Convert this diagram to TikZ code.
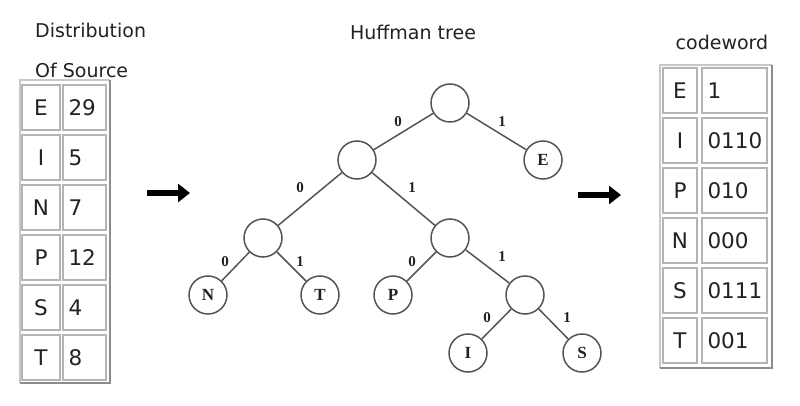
\documentclass[tikz,border=0pt]{standalone}
\usepackage{fontspec}
\setmainfont{DejaVu Sans}
\newfontfamily\treefont{Liberation Serif}
\usetikzlibrary{arrows.meta}
\definecolor{txt}{HTML}{222222}
\definecolor{edgec}{HTML}{555555}
\definecolor{cellb}{HTML}{B4B4B4}
\definecolor{outerb}{HTML}{C8C8C8}
\definecolor{shadowb}{HTML}{8C8C8C}
\begin{document}
\begin{tikzpicture}[x=1pt,y=-1pt,
  title/.style={text=txt,font=\fontsize{19}{22}\selectfont,inner sep=0pt},
  cellL/.style={draw=cellb,line width=1.2pt,minimum height=45pt,inner sep=0pt,text=txt,
    font=\fontsize{21.5}{24}\selectfont},
  tnode/.style={circle,draw=edgec,line width=1.5pt,minimum size=38pt,inner sep=0pt,
    font=\treefont\bfseries\fontsize{17}{19}\selectfont,text=txt},
  tedge/.style={draw=edgec,line width=1.5pt},
  lbl/.style={font=\treefont\bfseries\fontsize{15}{17}\selectfont,text=txt,inner sep=0pt},
  bigarrow/.style={line width=6pt,-{Triangle[length=12pt,width=18pt]}}
]
\useasboundingbox[fill=white] (0,0) rectangle (800,406);

% titles
\node[title,anchor=west] (t1) at (35,30) {Distribution};
\node[title,anchor=west] (t2) at (35,70) {Of Source};
\node[title] (t3) at (413,32) {Huffman tree};
\node[title] (t4) at (722,42) {codeword};

% left table
\draw[outerb,line width=1.5pt] (20,383) -- (20,80) -- (110,80);
\draw[shadowb,line width=2pt] (110,80) -- (110,383) -- (20,383);
\foreach \a/\b [count=\i from 0] in {E/29,I/5,N/7,P/12,S/4,T/8}{
  \node[cellL,minimum width=38pt] (la\i) at (41,107.5+50*\i) {\a};
  \node[cellL,minimum width=43pt,text width=32pt,align=left] (lb\i) at (84.5,107.5+50*\i) {\b};
}

% right table
\draw[outerb,line width=1.5pt] (660,368) -- (660,65) -- (772,65);
\draw[shadowb,line width=2pt] (772,65) -- (772,368) -- (660,368);
\foreach \a/\b [count=\i from 0] in {E/1,I/0110,P/010,N/000,S/0111,T/001}{
  \node[cellL,minimum width=34pt] (ra\i) at (680,90.5+50*\i) {\a};
  \node[cellL,minimum width=65pt,text width=54pt,align=left] (rb\i) at (734.5,90.5+50*\i) {\b};
}

% arrows
\coordinate (a1s) at (147,193);
\coordinate (a1e) at (190,193);
\coordinate (a2s) at (578,195);
\coordinate (a2e) at (621,195);
\draw[bigarrow] (a1s) -- (a1e);
\draw[bigarrow] (a2s) -- (a2e);

% tree
\node[tnode] (root) at (450,103) {};
\node[tnode] (l1) at (357,160) {};
\node[tnode] (E) at (543,160) {E};
\node[tnode] (l2) at (263,238) {};
\node[tnode] (r2) at (450,238) {};
\node[tnode] (N) at (208,295) {N};
\node[tnode] (T) at (320,295) {T};
\node[tnode] (P) at (393,295) {P};
\node[tnode] (r3) at (525,295) {};
\node[tnode] (I) at (468,353) {I};
\node[tnode] (S) at (582,353) {S};

\draw[tedge] (root) -- (l1);
\draw[tedge] (root) -- (E);
\draw[tedge] (l1) -- (l2);
\draw[tedge] (l1) -- (r2);
\draw[tedge] (l2) -- (N);
\draw[tedge] (l2) -- (T);
\draw[tedge] (r2) -- (P);
\draw[tedge] (r2) -- (r3);
\draw[tedge] (r3) -- (I);
\draw[tedge] (r3) -- (S);

\node[lbl] (e1) at (398,122) {0};
\node[lbl] (e2) at (502,122) {1};
\node[lbl] (e3) at (300,188) {0};
\node[lbl] (e4) at (412,188) {1};
\node[lbl] (e5) at (225,262) {0};
\node[lbl] (e6) at (300,262) {1};
\node[lbl] (e7) at (412,262) {0};
\node[lbl] (e8) at (502,257) {1};
\node[lbl] (e9) at (487,318) {0};
\node[lbl] (e10) at (567,318) {1};
\end{tikzpicture}
\end{document}
